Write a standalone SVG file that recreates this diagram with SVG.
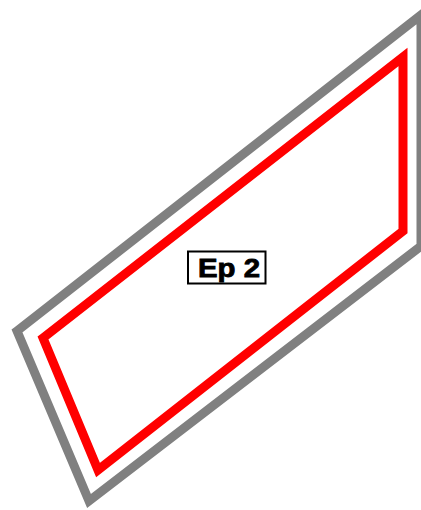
<svg xmlns="http://www.w3.org/2000/svg" width="421" height="510" viewBox="0 0 421 510">
  <style>
    .outer { fill: none; stroke: #808080; stroke-width: 9; stroke-linejoin: miter; }
    .inner { fill: none; stroke: #ff0000; stroke-width: 9; stroke-linejoin: miter; }
    .lbl-box { fill: #ffffff; stroke: #000000; stroke-width: 2; }
    .lbl { font-family: "Liberation Sans", Arial, sans-serif; font-weight: bold; font-size: 25px; fill: #000000; stroke: #000000; stroke-width: 0.8; }
  </style>
  <g id="outer-boundary">
    <polygon class="outer" points="17,331 421,15 421,246 89,501"/>
  </g>
  <g id="inner-boundary">
    <polygon class="inner" points="43,338 403,57 403,231 98,470"/>
  </g>
  <g id="label-ep2">
    <rect class="lbl-box" x="188" y="251.5" width="77.5" height="32"/>
    <text class="lbl" x="198" y="276.5" textLength="62" lengthAdjust="spacingAndGlyphs">Ep 2</text>
  </g>
</svg>
